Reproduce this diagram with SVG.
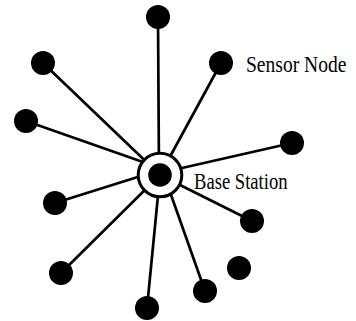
<svg xmlns="http://www.w3.org/2000/svg" width="356" height="321" viewBox="0 0 356 321">
  <style>
    .link { stroke: #000; stroke-width: 2.7; stroke-linecap: round; fill: none; }
    .sensor { fill: #000; }
    .label { font-family: "Liberation Serif", "Times New Roman", serif; font-size: 23px; fill: #000; }
  </style>
  <rect width="356" height="321" fill="#fff"/>

  <!-- radial links from the base station to each sensor -->
  <g id="links">
    <line class="link" x1="158" y1="17" x2="159" y2="175"/>
    <line class="link" x1="43" y1="63" x2="160" y2="175"/>
    <line class="link" x1="26" y1="121" x2="160" y2="168"/>
    <line class="link" x1="221" y1="63" x2="160" y2="175"/>
    <line class="link" x1="292" y1="143" x2="160" y2="173"/>
    <line class="link" x1="55" y1="203" x2="160" y2="170"/>
    <line class="link" x1="61" y1="273" x2="160" y2="175"/>
    <line class="link" x1="147" y1="308" x2="160" y2="175"/>
    <line class="link" x1="205" y1="291" x2="164" y2="175"/>
    <line class="link" x1="252" y1="221" x2="160" y2="175"/>
  </g>

  <!-- base station: ring with a solid core -->
  <g id="base-station">
    <circle cx="160" cy="175" r="21.8" fill="#fff" stroke="#000" stroke-width="3"/>
    <circle cx="160" cy="175" r="11.8" fill="#000"/>
    <text class="label" transform="translate(194 189) scale(0.81 1)" font-size="24">Base Station</text>
  </g>

  <!-- sensor nodes -->
  <g id="node-top"><circle class="sensor" cx="158" cy="17" r="12"/></g>
  <g id="node-upper-left"><circle class="sensor" cx="43" cy="63" r="12"/></g>
  <g id="node-left"><circle class="sensor" cx="26" cy="121" r="12"/></g>
  <g id="node-sensor">
    <circle class="sensor" cx="221" cy="63" r="12"/>
    <text class="label" transform="translate(246 72) scale(0.85 1)">Sensor Node</text>
  </g>
  <g id="node-right"><circle class="sensor" cx="292" cy="143" r="12"/></g>
  <g id="node-mid-left"><circle class="sensor" cx="55" cy="203" r="12"/></g>
  <g id="node-lower-left"><circle class="sensor" cx="61" cy="273" r="12"/></g>
  <g id="node-bottom"><circle class="sensor" cx="147" cy="308" r="12"/></g>
  <g id="node-lower-right"><circle class="sensor" cx="205" cy="291" r="12"/></g>
  <g id="node-idle"><circle class="sensor" cx="239" cy="268" r="12"/></g>
  <g id="node-mid-right"><circle class="sensor" cx="252" cy="221" r="12"/></g>
</svg>
